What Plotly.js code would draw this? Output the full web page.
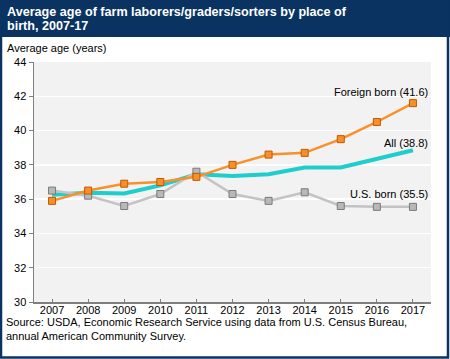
<!DOCTYPE html>
<html>
<head>
<meta charset="utf-8">
<script src="https://cdn.plot.ly/plotly-3.0.1.min.js"></script>
<style>
html,body{margin:0;padding:0;background:#fff;}
#chart{width:450px;height:359px;}
</style>
</head>
<body>
<div id="chart"></div>
<script>
var years = [2007, 2008, 2009, 2010, 2011, 2012, 2013, 2014, 2015, 2016, 2017];
var allAge = [36.25, 36.38, 36.33, 36.8, 37.45, 37.35, 37.45, 37.85, 37.85, 38.35, 38.85];
var usBorn = [36.5, 36.2, 35.6, 36.3, 37.6, 36.3, 35.9, 36.4, 35.6, 35.55, 35.55];
var foreignBorn = [35.9, 36.5, 36.9, 37.0, 37.3, 38.0, 38.6, 38.7, 39.5, 40.5, 41.6];
var yTicks = [30, 32, 34, 36, 38, 40, 42, 44];
var labelAll = "All (38.8)";
var labelUS = "U.S. born (35.5)";
var labelForeign = "Foreign born (41.6)";

var FONT = "Liberation Sans, Arial, sans-serif";
var NAVY = "#0a3362";

var traces = [
  {x: years, y: allAge, type: "scatter", mode: "lines", name: "All",
   line: {color: "#1fcdcd", width: 4}},
  {x: years, y: usBorn, type: "scatter", mode: "lines+markers", name: "U.S. born",
   line: {color: "#c3c3c3", width: 2.5},
   marker: {symbol: "square", size: 7, color: "#b8b8b8", line: {color: "#7a7a7a", width: 1}}},
  {x: years, y: foreignBorn, type: "scatter", mode: "lines+markers", name: "Foreign born",
   line: {color: "#fb8f2a", width: 2.5},
   marker: {symbol: "square", size: 7, color: "#f7902a", line: {color: "#c05a00", width: 1}}}
];

var L = 34, R = 19, T = 62, B = 57, W = 450, H = 359;
var pw = W - L - R, ph = H - T - B;
function px(x){ return (x - L) / pw; }
function py(y){ return 1 - (y - T) / ph; }

var layout = {
  width: W, height: H,
  margin: {l: L, r: R, t: T, b: B},
  paper_bgcolor: "#ffffff",
  plot_bgcolor: "#f2f2f2",
  showlegend: false,
  font: {family: FONT, size: 11, color: "#000"},
  xaxis: {
    range: [2006.5, 2017.5], tickvals: years, ticktext: years.map(String),
    showgrid: false, zeroline: false,
    showline: true, linecolor: "#7f7f7f", linewidth: 1.5,
    ticks: "inside", ticklen: 3, tickcolor: "#7f7f7f",
    ticklabelstandoff: -3,
    tickfont: {family: FONT, size: 11, color: "#000"}
  },
  yaxis: {
    range: [30, 44], tickvals: yTicks,
    showgrid: true, gridcolor: "#ffffff", gridwidth: 1.5,
    zeroline: false,
    showline: true, linecolor: "#7f7f7f", linewidth: 1.5,
    ticks: "outside", ticklen: 4, tickcolor: "#7f7f7f",
    tickfont: {family: FONT, size: 11, color: "#000"}
  },
  shapes: [
    {type: "rect", xref: "paper", yref: "paper",
     x0: px(0), x1: px(W), y0: py(37), y1: py(0),
     fillcolor: NAVY, line: {width: 0}, layer: "above"},
    {type: "rect", xref: "paper", yref: "paper",
     x0: px(1), x1: px(448), y0: py(357.5), y1: py(0),
     fillcolor: "rgba(0,0,0,0)", line: {color: NAVY, width: 2.5}, layer: "above"}
  ],
  annotations: [
    {xref: "paper", yref: "paper", x: px(5), y: py(12.5), xanchor: "left", yanchor: "middle",
     showarrow: false,
     text: "<b>Average age of farm laborers/graders/sorters by place of</b>",
     font: {family: FONT, size: 12.6, color: "#ffffff"}},
    {xref: "paper", yref: "paper", x: px(5), y: py(26), xanchor: "left", yanchor: "middle",
     showarrow: false,
     text: "<b>birth, 2007-17</b>",
     font: {family: FONT, size: 12.6, color: "#ffffff"}},
    {xref: "paper", yref: "paper", x: px(5), y: py(47.5), xanchor: "left", yanchor: "middle",
     showarrow: false, text: "Average age (years)",
     font: {family: FONT, size: 11, color: "#000"}},
    {xref: "paper", yref: "paper", x: px(4), y: py(314), xanchor: "left", yanchor: "top",
     align: "left", showarrow: false,
     text: "Source: USDA, Economic Research Service using data from U.S. Census Bureau,<br>annual American Community Survey.",
     font: {family: FONT, size: 11, color: "#000"}},
    {xref: "paper", yref: "y", x: px(430), y: foreignBorn[10], xanchor: "right", yanchor: "middle",
     yshift: 11, showarrow: false, text: labelForeign,
     font: {family: FONT, size: 11, color: "#000"}},
    {xref: "paper", yref: "y", x: px(430), y: allAge[10], xanchor: "right", yanchor: "middle",
     yshift: 7, showarrow: false, text: labelAll,
     font: {family: FONT, size: 11, color: "#000"}},
    {xref: "paper", yref: "y", x: px(430), y: usBorn[10], xanchor: "right", yanchor: "middle",
     yshift: 13, showarrow: false, text: labelUS,
     font: {family: FONT, size: 11, color: "#000"}}
  ]
};

Plotly.newPlot("chart", traces, layout, {displayModeBar: false, staticPlot: true});
</script>
</body>
</html>
